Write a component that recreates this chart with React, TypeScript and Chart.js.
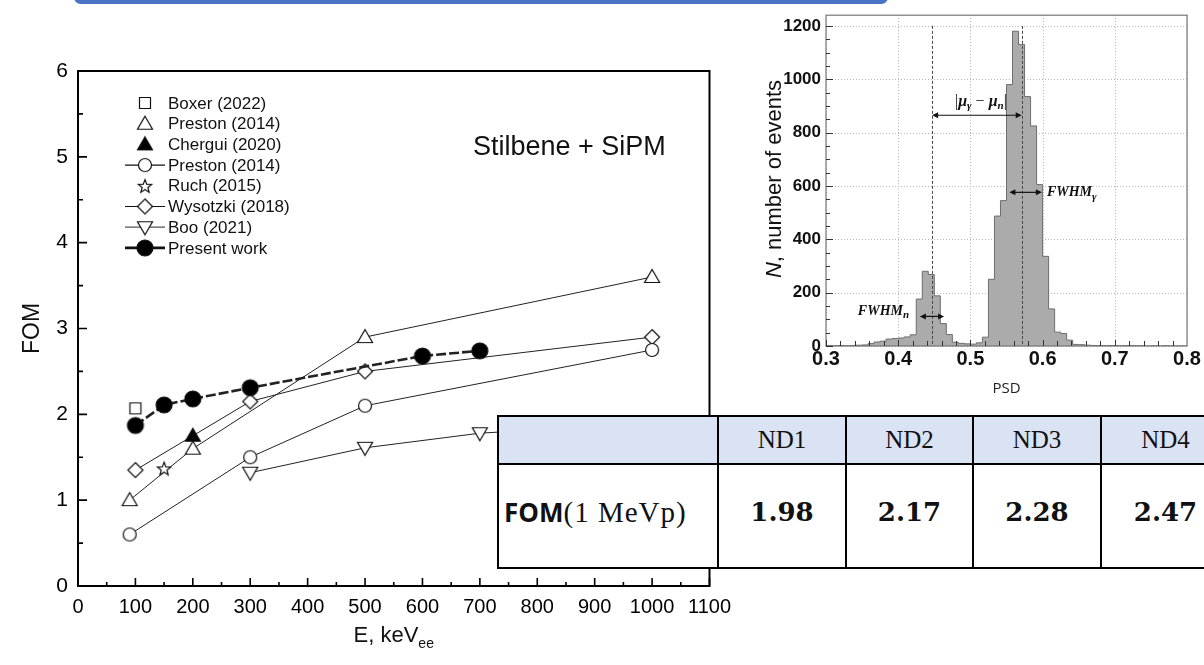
import React, { useEffect, useRef } from "react";
import { Chart, registerables } from "chart.js";

Chart.register(...registerables);

const SANS = '"Liberation Sans", Arial, sans-serif';
const SERIF = '"Liberation Serif", "Times New Roman", serif';

// ---------- Main chart (FOM vs E) ----------
const energyTicks = [0, 100, 200, 300, 400, 500, 600, 700, 800, 900, 1000, 1100];
const fomTicks = [0, 1, 2, 3, 4, 5, 6];

const boxerE = [100];
const boxerFOM = [2.07];
const prestonTriE = [90, 200, 500, 1000];
const prestonTriFOM = [1.0, 1.6, 2.9, 3.6];
const cherguiE = [200];
const cherguiFOM = [1.75];
const prestonCircE = [90, 300, 500, 1000];
const prestonCircFOM = [0.6, 1.5, 2.1, 2.75];
const ruchE = [150];
const ruchFOM = [1.37];
const wysotzkiE = [100, 300, 500, 1000];
const wysotzkiFOM = [1.35, 2.15, 2.5, 2.9];
const booE = [300, 500, 700, 1000];
const booFOM = [1.32, 1.61, 1.78, 1.9];
const presentE = [100, 150, 200, 300, 600, 700];
const presentFOM = [1.87, 2.11, 2.18, 2.31, 2.68, 2.74];

const seriesLabels = [
  "Boxer (2022)",
  "Preston (2014)",
  "Chergui (2020)",
  "Preston (2014)",
  "Ruch (2015)",
  "Wysotzki (2018)",
  "Boo (2021)",
  "Present work",
];

// ---------- PSD histogram ----------
const psdStart = 0.3;
const psdBinsPerUnit = 120;
const psdCounts = [
  2, 1, 2, 1, 2, 3, 4, 9, 15, 18,
  26, 28, 30, 34, 42, 176, 280, 268, 188, 84,
  43, 14, 10, 8, 7, 12, 33, 250, 487, 545,
  980, 1180, 1130, 935, 825, 605, 336, 139, 52, 47,
  22, 6, 5, 3, 2, 2, 1, 2, 1, 1,
  2, 1, 1, 0, 1, 0, 1, 0, 0, 0,
];
const psdTicks = [0.3, 0.4, 0.5, 0.6, 0.7, 0.8];
const countTicks = [0, 200, 400, 600, 800, 1000, 1200];
const muN = 0.447;
const muG = 0.571;
const muArrowLevel = 865;
const fwhmN = [0.43, 0.4635];
const fwhmNLevel = 111;
const fwhmG = [0.554, 0.599];
const fwhmGLevel = 576;

// ---------- Table ----------
const detectors = ["ND1", "ND2", "ND3", "ND4"];
const fomAt1MeV = ["1.98", "2.17", "2.28", "2.47"];

function makeMarker(kind: string): HTMLCanvasElement {
  const S = 24;
  const c = document.createElement("canvas");
  c.width = S;
  c.height = S;
  const g = c.getContext("2d")!;
  g.translate(S / 2, S / 2);
  g.lineWidth = 1.2;
  g.strokeStyle = "#111";
  g.fillStyle = "#fff";
  g.beginPath();
  if (kind === "square") g.rect(-5.5, -5.5, 11, 11);
  else if (kind === "tri" || kind === "triFill") {
    g.moveTo(0, -7.5);
    g.lineTo(7.5, 5.5);
    g.lineTo(-7.5, 5.5);
    g.closePath();
  } else if (kind === "triDown") {
    g.moveTo(0, 7.5);
    g.lineTo(7.5, -5.5);
    g.lineTo(-7.5, -5.5);
    g.closePath();
  } else if (kind === "circle") g.arc(0, 0, 6.5, 0, Math.PI * 2);
  else if (kind === "dot") g.arc(0, 0, 8, 0, Math.PI * 2);
  else if (kind === "diamond") {
    g.moveTo(0, -7.5);
    g.lineTo(7.5, 0);
    g.lineTo(0, 7.5);
    g.lineTo(-7.5, 0);
    g.closePath();
  } else if (kind === "star") {
    for (let i = 0; i < 10; i++) {
      const r = i % 2 ? 3 : 7;
      const a = -Math.PI / 2 + (i * Math.PI) / 5;
      const px = r * Math.cos(a);
      const py = r * Math.sin(a) + 0.8;
      if (i === 0) g.moveTo(px, py);
      else g.lineTo(px, py);
    }
    g.closePath();
  }
  if (kind === "dot" || kind === "triFill") g.fillStyle = "#000";
  g.fill();
  g.stroke();
  return c;
}

type Part = { t: string; font: string; dy?: number };
function drawParts(ctx: CanvasRenderingContext2D, parts: Part[], x: number, y: number, align: string) {
  let total = 0;
  for (const p of parts) {
    ctx.font = p.font;
    total += ctx.measureText(p.t).width;
  }
  let cx = align === "center" ? x - total / 2 : x;
  ctx.textAlign = "left";
  ctx.textBaseline = "middle";
  for (const p of parts) {
    ctx.font = p.font;
    ctx.fillText(p.t, cx, y + (p.dy || 0));
    cx += ctx.measureText(p.t).width;
  }
}

function drawDoubleArrow(ctx: CanvasRenderingContext2D, x1: number, x2: number, y: number) {
  ctx.save();
  ctx.strokeStyle = "#111";
  ctx.fillStyle = "#111";
  ctx.lineWidth = 1.2;
  ctx.beginPath();
  ctx.moveTo(x1 + 2, y);
  ctx.lineTo(x2 - 2, y);
  ctx.stroke();
  const h = 6;
  ctx.beginPath();
  ctx.moveTo(x1, y);
  ctx.lineTo(x1 + h, y - 3);
  ctx.lineTo(x1 + h, y + 3);
  ctx.closePath();
  ctx.fill();
  ctx.beginPath();
  ctx.moveTo(x2, y);
  ctx.lineTo(x2 - h, y - 3);
  ctx.lineTo(x2 - h, y + 3);
  ctx.closePath();
  ctx.fill();
  ctx.restore();
}

export default function App() {
  const mainRef = useRef<HTMLCanvasElement>(null);
  const histRef = useRef<HTMLCanvasElement>(null);

  useEffect(() => {
    const markers: Record<string, HTMLCanvasElement> = {};
    ["square", "tri", "triFill", "circle", "star", "diamond", "triDown", "dot"].forEach(
      (k) => (markers[k] = makeMarker(k))
    );
    const pts = (e: number[], f: number[]) => e.map((x, i) => ({ x, y: f[i] }));
    const series = [
      { e: boxerE, f: boxerFOM, m: "square", line: false, legLine: false, lw: 1, dash: [] as number[], order: 5 },
      { e: prestonTriE, f: prestonTriFOM, m: "tri", line: true, legLine: false, lw: 1, dash: [], order: 4 },
      { e: cherguiE, f: cherguiFOM, m: "triFill", line: false, legLine: false, lw: 1, dash: [], order: 1 },
      { e: prestonCircE, f: prestonCircFOM, m: "circle", line: true, legLine: true, lw: 1, dash: [], order: 3 },
      { e: ruchE, f: ruchFOM, m: "star", line: false, legLine: false, lw: 1, dash: [], order: 2 },
      { e: wysotzkiE, f: wysotzkiFOM, m: "diamond", line: true, legLine: true, lw: 1, dash: [], order: 3 },
      { e: booE, f: booFOM, m: "triDown", line: true, legLine: true, lw: 1, dash: [], order: 3 },
      { e: presentE, f: presentFOM, m: "dot", line: true, legLine: true, lw: 2.6, dash: [10, 3], order: 0 },
    ];

    const mainPlugin = {
      id: "mainDecor",
      afterDraw(chart: any) {
        const { ctx, chartArea: a, scales } = chart;
        const xs = scales.x;
        const ys = scales.y;
        ctx.save();
        ctx.strokeStyle = "#000";
        ctx.lineWidth = 2;
        ctx.strokeRect(a.left, a.top, a.right - a.left, a.bottom - a.top);
        ctx.lineWidth = 1.6;
        ctx.beginPath();
        for (let i = 0; i < energyTicks.length; i++) {
          const px = xs.getPixelForValue(energyTicks[i]);
          ctx.moveTo(px, a.bottom);
          ctx.lineTo(px, a.bottom - 8);
          if (i < energyTicks.length - 1) {
            const pm = (px + xs.getPixelForValue(energyTicks[i + 1])) / 2;
            ctx.moveTo(pm, a.bottom);
            ctx.lineTo(pm, a.bottom - 4);
          }
        }
        for (let i = 0; i < fomTicks.length; i++) {
          const py = ys.getPixelForValue(fomTicks[i]);
          ctx.moveTo(a.left, py);
          ctx.lineTo(a.left + 9, py);
          if (i < fomTicks.length - 1) {
            const pm = (py + ys.getPixelForValue(fomTicks[i + 1])) / 2;
            ctx.moveTo(a.left, pm);
            ctx.lineTo(a.left + 5, pm);
          }
        }
        ctx.stroke();
        // legend
        const lx = 145;
        const ly0 = 103;
        const step = 20.7;
        series.forEach((s, i) => {
          const y = ly0 + i * step;
          if (s.legLine) {
            ctx.strokeStyle = i === 6 ? "#555" : "#111";
            ctx.lineWidth = i === 7 ? 2.6 : 1.2;
            ctx.beginPath();
            ctx.moveTo(lx - 20, y);
            ctx.lineTo(lx + 20, y);
            ctx.stroke();
          }
          const img = markers[s.m];
          ctx.drawImage(img, lx - img.width / 2, y - img.height / 2);
          ctx.font = `17px ${SANS}`;
          ctx.textAlign = "left";
          ctx.textBaseline = "middle";
          ctx.fillStyle = "#111";
          ctx.fillText(seriesLabels[i], 168, y + 1);
        });
        ctx.fillStyle = "#111";
        ctx.font = `27px ${SANS}`;
        ctx.textAlign = "left";
        ctx.textBaseline = "middle";
        ctx.fillText("Stilbene + SiPM", 473, 148);
        ctx.save();
        ctx.translate(33, (a.top + a.bottom) / 2);
        ctx.rotate(-Math.PI / 2);
        ctx.font = `23px ${SANS}`;
        ctx.textAlign = "center";
        ctx.fillText("FOM", 0, 0);
        ctx.restore();
        drawParts(
          ctx,
          [
            { t: "E, keV", font: `22px ${SANS}` },
            { t: "ee", font: `14px ${SANS}`, dy: 8 },
          ],
          (a.left + a.right) / 2,
          636,
          "center"
        );
        ctx.restore();
      },
    };

    const mainChart = new Chart(mainRef.current!, {
      type: "scatter",
      data: {
        datasets: series.map((s, i) => ({
          label: seriesLabels[i],
          data: pts(s.e, s.f),
          showLine: s.line,
          borderColor: "#222",
          backgroundColor: "#222",
          borderWidth: s.lw,
          borderDash: s.dash,
          pointStyle: markers[s.m] as any,
          pointRadius: 7,
          pointHoverRadius: 7,
          order: s.order,
          clip: false as any,
        })),
      },
      options: {
        animation: false,
        responsive: false,
        maintainAspectRatio: false,
        events: [],
        layout: { padding: { left: 0, right: 21, top: 71, bottom: 0 } },
        plugins: { legend: { display: false }, tooltip: { enabled: false } },
        scales: {
          x: {
            type: "linear",
            min: 0,
            max: 1100,
            afterBuildTicks: (s: any) => {
              s.ticks = energyTicks.map((v) => ({ value: v }));
            },
            afterFit: (s: any) => {
              s.height = 79;
            },
            grid: { display: false, drawTicks: false },
            border: { display: false },
            ticks: {
              color: "#000",
              font: { family: SANS, size: 20 },
              padding: 9,
              maxRotation: 0,
              autoSkip: false,
              callback: (v: any) => String(v),
            },
          },
          y: {
            type: "linear",
            min: 0,
            max: 6,
            afterBuildTicks: (s: any) => {
              s.ticks = fomTicks.map((v) => ({ value: v }));
            },
            afterFit: (s: any) => {
              s.width = 78;
            },
            grid: { display: false, drawTicks: false },
            border: { display: false },
            ticks: {
              color: "#000",
              font: { family: SANS, size: 21 },
              padding: 10,
              callback: (v: any) => String(v),
            },
          },
        },
      },
      plugins: [mainPlugin],
    });

    // ---------- histogram ----------
    const histPts = psdCounts.map((c, k) => ({ x: psdStart + k / psdBinsPerUnit, y: c }));
    histPts.push({ x: psdStart + psdCounts.length / psdBinsPerUnit, y: psdCounts[psdCounts.length - 1] });

    const histPlugin = {
      id: "histDecor",
      beforeDatasetsDraw(chart: any) {
        const { ctx, chartArea: a, scales } = chart;
        ctx.save();
        ctx.strokeStyle = "#b5b5b5";
        ctx.lineWidth = 1;
        ctx.setLineDash([1, 2]);
        ctx.beginPath();
        psdTicks.forEach((v) => {
          const px = Math.round(scales.x.getPixelForValue(v)) + 0.5;
          ctx.moveTo(px, a.top);
          ctx.lineTo(px, a.bottom);
        });
        countTicks.forEach((v) => {
          const py = Math.round(scales.y.getPixelForValue(v)) + 0.5;
          ctx.moveTo(a.left, py);
          ctx.lineTo(a.right, py);
        });
        ctx.stroke();
        ctx.restore();
      },
      afterDatasetsDraw(chart: any) {
        const { ctx, chartArea: a, scales } = chart;
        const xs = scales.x;
        const ys = scales.y;
        ctx.save();
        ctx.strokeStyle = "#444";
        ctx.lineWidth = 1;
        ctx.setLineDash([3, 2]);
        ctx.beginPath();
        [muN, muG].forEach((m) => {
          const px = Math.round(xs.getPixelForValue(m)) + 0.5;
          ctx.moveTo(px, ys.getPixelForValue(countTicks[countTicks.length - 1]));
          ctx.lineTo(px, a.bottom);
        });
        ctx.stroke();
        ctx.setLineDash([]);
        ctx.strokeStyle = "#777";
        ctx.lineWidth = 1.2;
        ctx.strokeRect(a.left, a.top, a.right - a.left, a.bottom - a.top);
        ctx.strokeStyle = "#333";
        ctx.lineWidth = 1;
        ctx.beginPath();
        for (let i = 0; i < psdTicks.length - 1; i++) {
          const p0 = xs.getPixelForValue(psdTicks[i]);
          const p1 = xs.getPixelForValue(psdTicks[i + 1]);
          for (let j = 0; j < 5; j++) {
            const px = Math.round(p0 + ((p1 - p0) * j) / 5) + 0.5;
            ctx.moveTo(px, a.bottom);
            ctx.lineTo(px, a.bottom - (j === 0 ? 6 : 5));
          }
        }
        for (let i = 0; i < countTicks.length; i++) {
          const p0 = ys.getPixelForValue(countTicks[i]);
          const p1 = i < countTicks.length - 1 ? ys.getPixelForValue(countTicks[i + 1]) : p0;
          for (let j = 0; j < 4; j++) {
            if (i === countTicks.length - 1 && j > 0) break;
            const py = Math.round(p0 + ((p1 - p0) * j) / 4) + 0.5;
            ctx.moveTo(a.left, py);
            ctx.lineTo(a.left + (j === 0 ? 7 : 4), py);
          }
        }
        ctx.stroke();
        const yMu = ys.getPixelForValue(muArrowLevel);
        drawDoubleArrow(ctx, xs.getPixelForValue(muN), xs.getPixelForValue(muG), yMu);
        const yG = ys.getPixelForValue(fwhmGLevel);
        drawDoubleArrow(ctx, xs.getPixelForValue(fwhmG[0]), xs.getPixelForValue(fwhmG[1]), yG);
        const yN = ys.getPixelForValue(fwhmNLevel);
        drawDoubleArrow(ctx, xs.getPixelForValue(fwhmN[0]), xs.getPixelForValue(fwhmN[1]), yN);
        ctx.fillStyle = "#111";
        const mi = `italic bold 16px ${SERIF}`;
        const ms = `italic bold 11px ${SERIF}`;
        const mr = `16px ${SERIF}`;
        drawParts(
          ctx,
          [
            { t: "|", font: mr },
            { t: "μ", font: mi },
            { t: "γ", font: ms, dy: 4 },
            { t: " − ", font: mr },
            { t: "μ", font: mi },
            { t: "n", font: ms, dy: 4 },
            { t: "|", font: mr },
          ],
          (xs.getPixelForValue(muN) + xs.getPixelForValue(muG)) / 2 + 4,
          yMu - 13,
          "center"
        );
        drawParts(
          ctx,
          [
            { t: "FWHM", font: `italic bold 14px ${SERIF}` },
            { t: "γ", font: ms, dy: 5 },
          ],
          xs.getPixelForValue(fwhmG[1]) + 5,
          yG,
          "left"
        );
        drawParts(
          ctx,
          [
            { t: "FWHM", font: `italic bold 14px ${SERIF}` },
            { t: "n", font: ms, dy: 4 },
          ],
          xs.getPixelForValue(fwhmN[0]) - 62,
          yN - 5,
          "left"
        );
        ctx.save();
        ctx.translate(35, 179);
        ctx.rotate(-Math.PI / 2);
        drawParts(
          ctx,
          [
            { t: "N", font: `italic 22px ${SANS}` },
            { t: ", number of events", font: `22px ${SANS}` },
          ],
          0,
          0,
          "center"
        );
        ctx.restore();
        ctx.font = `15px "Open Sans", ${SANS}`;
        ctx.textAlign = "center";
        ctx.textBaseline = "middle";
        ctx.fillStyle = "#222";
        ctx.fillText("PSD", (a.left + a.right) / 2, 389);
        ctx.restore();
      },
    };

    const histChart = new Chart(histRef.current!, {
      type: "line",
      data: {
        datasets: [
          {
            data: histPts,
            stepped: "before" as any,
            fill: "origin",
            backgroundColor: "#ababab",
            borderColor: "#6e6e6e",
            borderWidth: 1,
            pointRadius: 0,
          },
        ],
      },
      options: {
        animation: false,
        responsive: false,
        maintainAspectRatio: false,
        events: [],
        layout: { padding: { left: 0, right: 17, top: 10, bottom: 0 } },
        plugins: { legend: { display: false }, tooltip: { enabled: false } },
        scales: {
          x: {
            type: "linear",
            min: 0.3,
            max: 0.8,
            afterBuildTicks: (s: any) => {
              s.ticks = psdTicks.map((v) => ({ value: v }));
            },
            afterFit: (s: any) => {
              s.height = 54;
            },
            grid: { display: false, drawTicks: false },
            border: { display: false },
            ticks: {
              color: "#111",
              font: { family: SANS, size: 20, weight: "bold" },
              padding: 1,
              maxRotation: 0,
              autoSkip: false,
              callback: (v: any) => Number(v).toFixed(1),
            },
          },
          y: {
            type: "linear",
            min: 0,
            max: 1240,
            afterBuildTicks: (s: any) => {
              s.ticks = countTicks.map((v) => ({ value: v }));
            },
            afterFit: (s: any) => {
              s.width = 86;
            },
            grid: { display: false, drawTicks: false },
            border: { display: false },
            ticks: {
              color: "#111",
              font: { family: SANS, size: 17, weight: "bold" },
              padding: 5,
              callback: (v: any) => String(v),
            },
          },
        },
      },
      plugins: [histPlugin],
    });

    return () => {
      mainChart.destroy();
      histChart.destroy();
    };
  }, []);

  const cellBorder = "2px solid #000";
  return (
    <div
      style={{
        position: "absolute",
        left: 0,
        top: 0,
        width: 1204,
        height: 665,
        background: "#fff",
        overflow: "hidden",
      }}
    >
      <div
        style={{
          position: "absolute",
          left: 74,
          top: -9,
          width: 814,
          height: 13,
          borderRadius: 10,
          background: "#4a75c6",
        }}
      />
      <canvas
        ref={mainRef}
        width={740}
        height={665}
        style={{ position: "absolute", left: 0, top: 0, width: 740, height: 665 }}
      />
      <canvas
        ref={histRef}
        width={464}
        height={400}
        style={{ position: "absolute", left: 740, top: 0, width: 464, height: 400 }}
      />
      <table
        style={{
          position: "absolute",
          left: 497,
          top: 415,
          borderCollapse: "collapse",
          tableLayout: "fixed",
          width: 732,
          background: "#fff",
        }}
      >
        <colgroup>
          <col style={{ width: 220 }} />
          <col style={{ width: 128 }} />
          <col style={{ width: 127 }} />
          <col style={{ width: 128 }} />
          <col style={{ width: 129 }} />
        </colgroup>
        <tbody>
          <tr style={{ height: 48 }}>
            <td style={{ border: cellBorder, background: "#dae3f3", padding: 0 }} />
            {detectors.map((d) => (
              <td
                key={d}
                style={{
                  border: cellBorder,
                  background: "#dae3f3",
                  textAlign: "center",
                  padding: 0,
                  font: `25px ${SERIF}`,
                  color: "#111",
                }}
              >
                {d}
              </td>
            ))}
          </tr>
          <tr style={{ height: 104 }}>
            <td
              style={{
                border: cellBorder,
                padding: "0 0 8px 5px",
                color: "#111",
                whiteSpace: "nowrap",
              }}
            >
              <span style={{ font: `bold 26px "Open Sans", ${SANS}` }}>FOM</span>
              <span style={{ font: `29px ${SERIF}`, letterSpacing: 1 }}>(1 MeVp)</span>
            </td>
            {fomAt1MeV.map((v, i) => (
              <td
                key={i}
                style={{
                  border: cellBorder,
                  textAlign: "center",
                  padding: "0 0 8px 0",
                  font: `bold 26px "DejaVu Serif", ${SERIF}`,
                  color: "#111",
                }}
              >
                {v}
              </td>
            ))}
          </tr>
        </tbody>
      </table>
    </div>
  );
}
